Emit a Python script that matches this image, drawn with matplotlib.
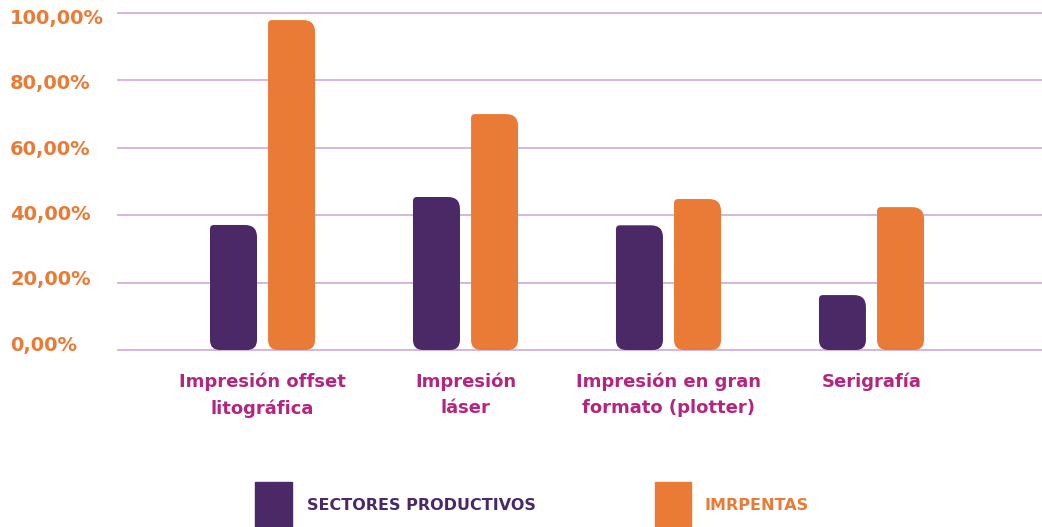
import matplotlib
matplotlib.use("Agg")
import matplotlib.pyplot as plt
from matplotlib.path import Path
from matplotlib.patches import PathPatch, Rectangle
import numpy as np

categories = ["Impresión offset\nlitográfica", "Impresión\nláser",
              "Impresión en gran\nformato (plotter)", "Serigrafía"]
series_names = ["SECTORES PRODUCTIVOS", "IMRPENTAS"]
sectores = [37.1, 45.4, 37.0, 16.3]
imprentas = [97.9, 70.0, 44.8, 42.4]
yticks = [0, 20, 40, 60, 80, 100]
ytick_labels = ["0,00%", "20,00%", "40,00%", "60,00%", "80,00%", "100,00%"]

PURPLE = "#4a2966"
ORANGE = "#e97b36"
MAGENTA = "#b3267f"
GRID = "#d2b0dc"

plt.rcParams['font.family'] = ['DejaVu Sans']

W, H = 1042, 527
fig = plt.figure(figsize=(W / 100, H / 100), dpi=100)
ax = fig.add_axes([118 / W, 1 - 350 / H, 1 - 118 / W, (350 - 13) / H])

x = np.arange(len(categories))
bw = 0.2315
off = 0.143
ax.set_xlim(-0.712, 3.84)
ax.set_ylim(0, 100)

bars1 = ax.bar(x - off, sectores, bw, color=PURPLE)
bars2 = ax.bar(x + off, imprentas, bw, color=ORANGE)

for s in ax.spines.values():
    s.set_visible(False)
ax.set_yticks(yticks)
ax.set_yticklabels([])
ax.tick_params(axis='y', length=0)
ax.grid(axis='y', color=GRID, linewidth=1.3)
ax.set_axisbelow(True)
for gl in ax.get_ygridlines():
    gl.set_clip_on(False)

ax.set_xticks(x)
ax.set_xticklabels(categories, fontsize=13, fontweight='bold', color=MAGENTA,
                   linespacing=1.6)
ax.tick_params(axis='x', length=0, pad=16)

# y labels (left aligned)
for v, lab in zip(yticks, ytick_labels):
    ya = 0.0148 + v / 100 * 0.969
    ax.text(-108 / (W - 118), ya, lab, transform=ax.transAxes, ha='left',
            va='center', fontsize=14, fontweight='bold', color=ORANGE)

# rounded bars
fig.canvas.draw()
px_x = ax.transData.transform((1, 0))[0] - ax.transData.transform((0, 0))[0]
px_y = ax.transData.transform((0, 1))[1] - ax.transData.transform((0, 0))[1]

def rounded(x0, y0, w, h, rb, rtr, rtl):
    # radii in pixels
    def rx(r): return r / px_x
    def ry(r): return r / px_y
    x1, y1 = x0 + w, y0 + h
    verts = [
        (x0 + rx(rb), y0),
        (x1 - rx(rb), y0), (x1, y0), (x1, y0 + ry(rb)),
        (x1, y1 - ry(rtr)), (x1, y1), (x1 - rx(rtr), y1),
        (x0 + rx(rtl), y1), (x0, y1), (x0, y1 - ry(rtl)),
        (x0, y0 + ry(rb)), (x0, y0), (x0 + rx(rb), y0),
        (x0 + rx(rb), y0),
    ]
    codes = [Path.MOVETO,
             Path.LINETO, Path.CURVE3, Path.CURVE3,
             Path.LINETO, Path.CURVE3, Path.CURVE3,
             Path.LINETO, Path.CURVE3, Path.CURVE3,
             Path.LINETO, Path.CURVE3, Path.CURVE3,
             Path.CLOSEPOLY]
    return Path(verts, codes)

for bars, col in ((bars1, PURPLE), (bars2, ORANGE)):
    for b in bars:
        b.set_visible(False)
        p = rounded(b.get_x(), b.get_y(), b.get_width(), b.get_height(), 10, 12, 4)
        ax.add_patch(PathPatch(p, facecolor=col, edgecolor='none', zorder=3))

# legend
fig.add_artist(Rectangle((255 / W, 0), 37 / W, (527 - 482) / H,
                         transform=fig.transFigure, color=PURPLE))
fig.text(307 / W, 1 - 505 / H, series_names[0], fontsize=11.5, fontweight='bold',
         color=PURPLE, va='center', ha='left')
fig.add_artist(Rectangle((655 / W, 0), 36 / W, (527 - 482) / H,
                         transform=fig.transFigure, color=ORANGE))
fig.text(705 / W, 1 - 505 / H, series_names[1], fontsize=11.5, fontweight='bold',
         color=ORANGE, va='center', ha='left')

fig.savefig("out.png", dpi=100, facecolor='white')
